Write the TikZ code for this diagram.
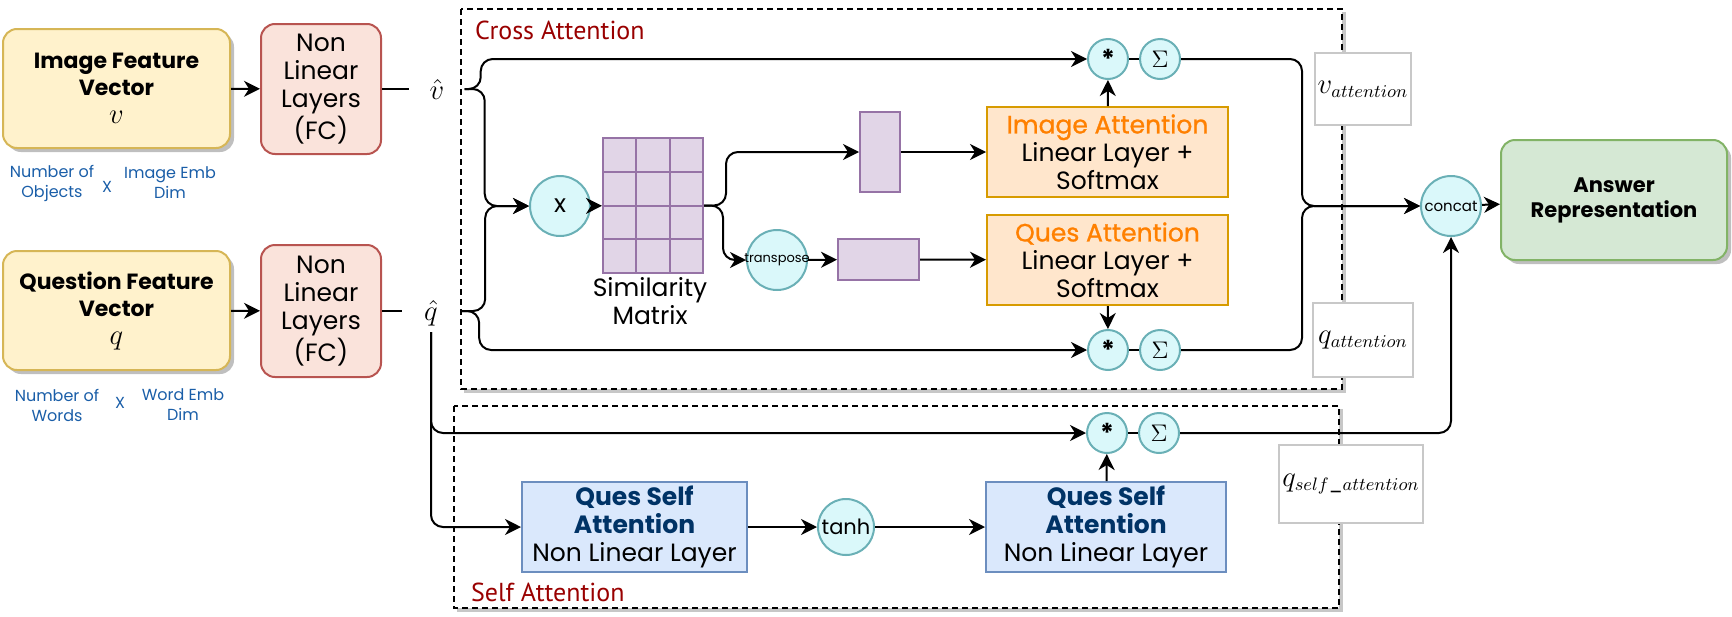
\documentclass[tikz,border=0pt]{standalone}
\usepackage{amsmath}
\usepackage{fontspec}
\setmainfont{Poppins}
\newfontfamily\medfont[FakeBold=1]{Poppins}
\newfontfamily\titlefont{PT Sans}
\usetikzlibrary{arrows.meta,shadows}
\definecolor{featfill}{HTML}{FFF2CC}
\definecolor{featline}{HTML}{D6B656}
\definecolor{nllfill}{HTML}{FAE3DB}
\definecolor{nllline}{HTML}{B85450}
\definecolor{opfill}{HTML}{DAF8FA}
\definecolor{opline}{HTML}{6AB0B6}
\definecolor{matfill}{HTML}{E1D5E7}
\definecolor{matline}{HTML}{9673A6}
\definecolor{attfill}{HTML}{FFE6CC}
\definecolor{attline}{HTML}{D79B00}
\definecolor{atttitle}{HTML}{FF8000}
\definecolor{selffill}{HTML}{DAE8FC}
\definecolor{selfline}{HTML}{6C8EBF}
\definecolor{selftitle}{HTML}{003366}
\definecolor{ansfill}{HTML}{D5E8D4}
\definecolor{ansline}{HTML}{82B366}
\definecolor{dimblue}{HTML}{1A5EA8}
\definecolor{labline}{HTML}{C8C8C8}
\definecolor{grptitle}{HTML}{990000}
\tikzset{>={Stealth[length=8pt,width=8pt,inset=2.5pt]}}
\tikzset{
  conn/.style={line width=1pt},
  bigtext/.style={font=\fontsize{12.5}{14}\selectfont},
  featbox/.style={draw=featline, fill=featfill, rounded corners=7pt, line width=1pt,
    drop shadow={shadow xshift=2pt, shadow yshift=-2pt, fill=black!25, opacity=1},
    align=center, inner sep=0pt, font=\fontsize{11}{13.5}\selectfont\bfseries,
    minimum width=113.5pt, minimum height=59.5pt},
  nllbox/.style={draw=nllline, fill=nllfill, rounded corners=7pt, line width=1pt,
    align=center, inner sep=0pt, bigtext, minimum width=60pt},
  opnode/.style={circle, draw=opline, fill=opfill, line width=1pt, inner sep=0pt},
  starnode/.style={opnode, minimum size=20pt, font=\fontsize{13}{14}\selectfont\bfseries},
  sumnode/.style={opnode, minimum size=20pt, font=\fontsize{12}{14}\selectfont},
  vecbox/.style={draw=matline, fill=matfill, line width=1pt, inner sep=0pt},
  attbox/.style={draw=attline, fill=attfill, line width=1pt, align=center, inner sep=0pt,
    bigtext, minimum width=120.5pt, minimum height=45pt},
  selfbox/.style={draw=selfline, fill=selffill, line width=1pt, align=center, inner sep=0pt,
    bigtext, minimum height=45pt},
  labbox/.style={draw=labline, fill=white, line width=1pt, inner sep=0pt,
    font=\fontsize{13.5}{15}\selectfont},
  dimtext/.style={text=dimblue, align=center, font=\fontsize{8}{10}\selectfont},
  hatlabel/.style={inner ysep=0pt, font=\fontsize{14}{16}\selectfont},
  grpbox/.style={dash pattern=on 3pt off 2pt, line width=1pt},
  grpshadow/.style={black!22, line width=2pt},
}

\begin{document}
\begin{tikzpicture}[x=0.5pt,y={(0pt,-0.5pt)}]
\useasboundingbox (0,0) rectangle (1732,616);

% group frames
\draw[grpshadow] (464,391) -- (1344,391) -- (1344,12);
\draw[grpbox] (461,9) rectangle (1342,389);
\draw[grpshadow] (457,610) -- (1341,610) -- (1341,409);
\draw[grpbox] (454,406) rectangle (1339,608);
\node[anchor=west, text=grptitle, font=\titlefont\fontsize{13}{15}\selectfont] (crosstitle) at (468,30) {Cross Attention};
\node[anchor=west, text=grptitle, font=\titlefont\fontsize{13}{15}\selectfont] (selftitle) at (464,592) {Self Attention};

% inputs
\node[featbox] (imgfeat) at (116.5,88.5) {Image Feature\\Vector\\[0.5pt]\fontsize{13.5}{13.5}\selectfont$v$};
\node[featbox] (quesfeat) at (116.5,310.5) {Question Feature\\Vector\\[0.5pt]\fontsize{13.5}{13.5}\selectfont$q$};
\node[nllbox, minimum height=65pt] (nll1) at (321,89) {Non\\Linear\\Layers\\(FC)};
\node[nllbox, minimum height=66pt] (nll2) at (321,311) {Non\\Linear\\Layers\\(FC)};

\node[dimtext] (objnum) at (52,183) {Number of\\Objects};
\node[dimtext] (objx) at (107,187) {X};
\node[dimtext] (objdim) at (170,183) {Image Emb\\Dim};
\node[dimtext] (wordnum) at (57,405) {Number of\\Words};
\node[dimtext] (wordx) at (120,403) {X};
\node[dimtext] (worddim) at (183,405) {Word Emb\\Dim};

\node[hatlabel, inner xsep=10pt] (vhat) at (437,89) {$\hat{v}$};
\node[hatlabel, inner xsep=11pt] (qhat) at (431,313) {$\hat{q}$};

% cross attention
\node[opnode, minimum size=30pt, bigtext] (mul) at (560,206) {x};
\node[vecbox, minimum width=50pt, minimum height=67.5pt] (simmat) at (653,205.5) {};
\foreach \cx in {636.3,669.7} \draw[matline, line width=1pt] (\cx,138) -- (\cx,273);
\foreach \cy in {171.75,205.5,239.25} \draw[matline, line width=1pt] (603,\cy) -- (703,\cy);
\node[align=center, bigtext] (simlabel) at (650,301) {Similarity\\Matrix};

\node[vecbox, minimum width=20pt, minimum height=40pt] (vvec) at (880,152) {};
\node[opnode, minimum size=30pt, label={[font=\fontsize{6.5}{7}\selectfont]center:transpose}] (transp) at (777,260) {};
\node[vecbox, minimum width=40.5pt, minimum height=20.5pt] (qvec) at (878.5,259.5) {};

\node[attbox] (imgatt) at (1107.5,152) {\textcolor{atttitle}{\medfont Image Attention}\\Linear Layer +\\Softmax};
\node[attbox] (quesatt) at (1107.5,260) {\textcolor{atttitle}{\medfont Ques Attention}\\Linear Layer +\\Softmax};

\node[starnode] (vstar) at (1108,59) {*};
\node[sumnode] (vsum) at (1160,59) {$\Sigma$};
\node[starnode] (qstar) at (1108,350) {*};
\node[sumnode] (qsum) at (1160,350) {$\Sigma$};

\node[labbox, minimum width=48pt, minimum height=36pt] (vlab) at (1363,89) {$v_{attention}$};
\node[labbox, minimum width=50pt, minimum height=37pt] (qlab) at (1363,340) {$q_{attention}$};
\node[labbox, minimum width=72pt, minimum height=39pt] (qslab) at (1351,484) {$q_{self\_attention}$};

% self attention
\node[selfbox, minimum width=112.5pt] (qsa1) at (634.5,527) {\textcolor{selftitle}{\bfseries Ques Self}\\\textcolor{selftitle}{\bfseries Attention}\\Non Linear Layer};
\node[opnode, minimum size=28pt, font=\fontsize{10.5}{12}\selectfont] (tanh) at (846,527) {tanh};
\node[selfbox, minimum width=120pt] (qsa2) at (1106,527) {\textcolor{selftitle}{\bfseries Ques Self}\\\textcolor{selftitle}{\bfseries Attention}\\Non Linear Layer};
\node[starnode] (sstar) at (1107,433) {*};
\node[sumnode] (ssum) at (1159,433) {$\Sigma$};

% output
\node[opnode, minimum size=30pt, label={[font=\fontsize{7.5}{8}\selectfont]center:concat}] (concat) at (1451,206) {};
\node[draw=ansline, fill=ansfill, rounded corners=7pt, line width=1pt, align=center, inner sep=0pt,
  drop shadow={shadow xshift=2pt, shadow yshift=-2pt, fill=black!25, opacity=1},
  font=\fontsize{10.5}{12.5}\selectfont\bfseries, minimum width=113pt, minimum height=60pt] (answer) at (1614,200) {Answer\\Representation};

% connectors
\draw[conn,->] (imgfeat) -- (nll1);
\draw[conn,->] (quesfeat) -- (nll2);
\draw[conn] (nll1) -- (vhat);
\draw[conn] (nll2.east) -- (nll2.east -| qhat.west);

\draw[conn,->,rounded corners=6pt] (vhat.east) -- ++(16,0) |- (vstar.west);
\draw[conn,->,rounded corners=6pt] (vhat.east) -- ++(20,0) |- (mul.west);
\draw[conn,->,rounded corners=6pt] (nll2.east -| qhat.east) -- ++(25,0) |- (mul.west);
\draw[conn,->,rounded corners=6pt] (nll2.east -| qhat.east) -- ++(19,0) |- (qstar.west);
\draw[conn,->] (mul) -- (simmat);
\draw[conn,->,rounded corners=6pt] (simmat.east) -- ++(22,0) |- (vvec.west);
\draw[conn,->,rounded corners=6pt] (simmat.east) -- ++(19,0) |- (transp.west);
\draw[conn,->] (transp) -- (qvec);
\draw[conn,->] (vvec) -- (imgatt);
\draw[conn,->] (qvec) -- (quesatt);
\draw[conn,->] (imgatt) -- (vstar);
\draw[conn,->] (quesatt) -- (qstar);
\draw[conn] (vstar) -- (vsum);
\draw[conn] (qstar) -- (qsum);
\draw[conn,->,rounded corners=6pt] (vsum.east) -- ++(121,0) |- (concat.west);
\draw[conn,->,rounded corners=6pt] (qsum.east) -- ++(121,0) |- (concat.west);

\draw[conn,->,rounded corners=6pt] ([yshift=-3pt]qhat.south) |- (sstar.west);
\draw[conn,->,rounded corners=6pt] ([yshift=-3pt]qhat.south) |- (qsa1.west);
\draw[conn,->] (qsa1) -- (tanh);
\draw[conn,->] (tanh) -- (qsa2);
\draw[conn,->] (qsa2) -- (sstar);
\draw[conn] (sstar) -- (ssum);
\draw[conn,->,rounded corners=6pt] (ssum.east) -| (concat.south);
\draw[conn,->] (concat) -- (answer);

\end{tikzpicture}
\end{document}
